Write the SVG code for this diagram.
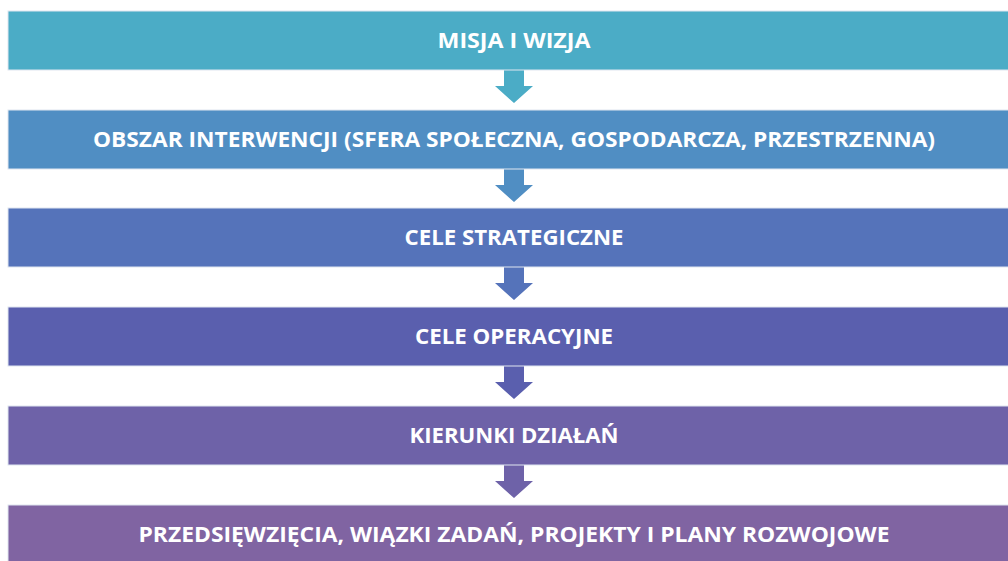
<svg xmlns="http://www.w3.org/2000/svg" width="1008" height="561" viewBox="0 0 1008 561">
<style>
.box{stroke:#dfe6f0;stroke-width:1}
.t{font-family:"Open Sans","Liberation Sans",sans-serif;font-weight:bold;font-size:22px;fill:#ffffff;text-anchor:middle}
</style>
<defs>
<path id="arr" d="M-10,0 H10 V16 H19 L0,33 L-19,16 H-10 Z"/>
</defs>
<rect width="1008" height="561" fill="#ffffff"/>
<g id="connectors">
<use href="#arr" x="514" y="70" fill="#4BACC6"/>
<use href="#arr" x="514" y="169" fill="#508EC3"/>
<use href="#arr" x="514" y="267" fill="#5573BA"/>
<use href="#arr" x="514" y="366" fill="#5A5FAE"/>
<use href="#arr" x="514" y="465" fill="#6E62A8"/>
</g>
<g id="n1"><rect class="box" x="8" y="11" width="1010" height="59" fill="#4BACC6"/><text class="t" x="514" y="48" textLength="153" lengthAdjust="spacingAndGlyphs">MISJA I WIZJA</text></g>
<g id="n2"><rect class="box" x="8" y="110" width="1010" height="59" fill="#508EC3"/><text class="t" x="514" y="147" textLength="842" lengthAdjust="spacingAndGlyphs">OBSZAR INTERWENCJI (SFERA SPOŁECZNA, GOSPODARCZA, PRZESTRZENNA)</text></g>
<g id="n3"><rect class="box" x="8" y="208" width="1010" height="59" fill="#5573BA"/><text class="t" x="514" y="245" textLength="219" lengthAdjust="spacingAndGlyphs">CELE STRATEGICZNE</text></g>
<g id="n4"><rect class="box" x="8" y="307" width="1010" height="59" fill="#5A5FAE"/><text class="t" x="514" y="344" textLength="198" lengthAdjust="spacingAndGlyphs">CELE OPERACYJNE</text></g>
<g id="n5"><rect class="box" x="8" y="406" width="1010" height="59" fill="#6E62A8"/><text class="t" x="514" y="443" textLength="209" lengthAdjust="spacingAndGlyphs">KIERUNKI DZIAŁAŃ</text></g>
<g id="n6"><rect class="box" x="8" y="505" width="1010" height="70" fill="#8064A2"/><text class="t" x="514" y="542" textLength="751" lengthAdjust="spacingAndGlyphs">PRZEDSIĘWZIĘCIA, WIĄZKI ZADAŃ, PROJEKTY I PLANY ROZWOJOWE</text></g>
</svg>
